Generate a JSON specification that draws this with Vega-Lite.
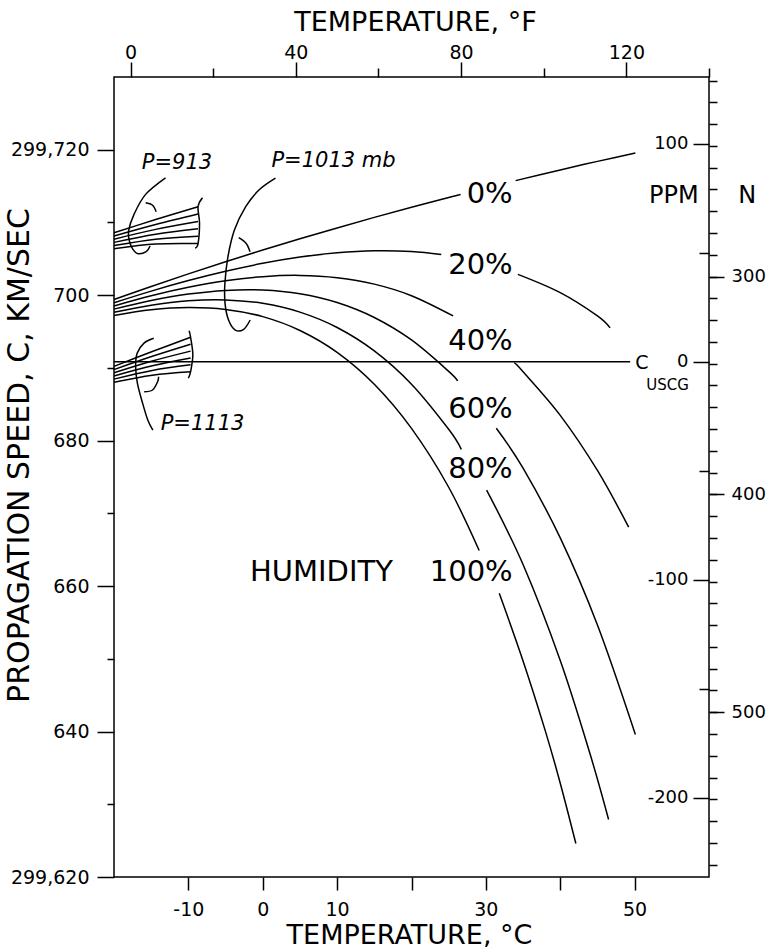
{
  "$schema": "https://vega.github.io/schema/vega-lite/v6.json",
  "width": 595,
  "height": 800,
  "autosize": "none",
  "padding": {"left": 114, "top": 77, "right": 64, "bottom": 75},
  "background": "white",
  "config": {
    "view": {"stroke": "black", "strokeWidth": 1.5},
    "axis": {
      "grid": false, "domain": false,
      "labelFont": "DejaVu Sans", "titleFont": "DejaVu Sans",
      "labelColor": "black", "titleColor": "black", "tickColor": "black",
      "tickWidth": 1.5, "titleFontWeight": "normal", "labelFontWeight": "normal",
      "labelOverlap": false, "labelFlush": false
    }
  },
  "datasets": {
    "curves": [
      {"id":"1013-0-a","i":0,"t":-20,"v":299699.40},{"id":"1013-0-a","i":1,"t":-15,"v":299701.20},{"id":"1013-0-a","i":2,"t":-10,"v":299702.93},{"id":"1013-0-a","i":3,"t":-5,"v":299704.60},{"id":"1013-0-a","i":4,"t":0,"v":299706.21},{"id":"1013-0-a","i":5,"t":5,"v":299707.76},{"id":"1013-0-a","i":6,"t":10,"v":299709.25},{"id":"1013-0-a","i":7,"t":15,"v":299710.70},{"id":"1013-0-a","i":8,"t":20,"v":299712.09},{"id":"1013-0-a","i":9,"t":25,"v":299713.44},{"id":"1013-0-a","i":10,"t":26.6,"v":299713.85},
      {"id":"1013-0-b","i":0,"t":34.0,"v":299715.75},{"id":"1013-0-b","i":1,"t":40,"v":299717.22},{"id":"1013-0-b","i":2,"t":45,"v":299718.40},{"id":"1013-0-b","i":3,"t":50.1,"v":299719.55},
      {"id":"1013-20-a","i":0,"t":-20,"v":299698.96},{"id":"1013-20-a","i":1,"t":-15,"v":299700.56},{"id":"1013-20-a","i":2,"t":-10,"v":299702.01},{"id":"1013-20-a","i":3,"t":-5,"v":299703.29},{"id":"1013-20-a","i":4,"t":0,"v":299704.38},{"id":"1013-20-a","i":5,"t":5,"v":299705.24},{"id":"1013-20-a","i":6,"t":10,"v":299705.83},{"id":"1013-20-a","i":7,"t":15,"v":299706.11},{"id":"1013-20-a","i":8,"t":20,"v":299706.01},{"id":"1013-20-a","i":9,"t":24.0,"v":299705.58},
      {"id":"1013-20-b","i":0,"t":34.3,"v":299702.86},{"id":"1013-20-b","i":1,"t":40,"v":299700.35},{"id":"1013-20-b","i":2,"t":45,"v":299697.15},{"id":"1013-20-b","i":3,"t":46.7,"v":299695.5},
      {"id":"1013-40-a","i":0,"t":-20,"v":299698.52},{"id":"1013-40-a","i":1,"t":-15,"v":299699.92},{"id":"1013-40-a","i":2,"t":-10,"v":299701.08},{"id":"1013-40-a","i":3,"t":-5,"v":299701.98},{"id":"1013-40-a","i":4,"t":0,"v":299702.55},{"id":"1013-40-a","i":5,"t":5,"v":299702.72},{"id":"1013-40-a","i":6,"t":10,"v":299702.41},{"id":"1013-40-a","i":7,"t":15,"v":299701.52},{"id":"1013-40-a","i":8,"t":20,"v":299699.93},{"id":"1013-40-a","i":9,"t":25.6,"v":299697.15},
      {"id":"1013-40-b","i":0,"t":33.8,"v":299690.7},{"id":"1013-40-b","i":1,"t":35,"v":299689.48},{"id":"1013-40-b","i":2,"t":40,"v":299683.48},{"id":"1013-40-b","i":3,"t":45,"v":299675.90},{"id":"1013-40-b","i":4,"t":49.2,"v":299668.1},
      {"id":"1013-60-a","i":0,"t":-20,"v":299698.08},{"id":"1013-60-a","i":1,"t":-15,"v":299699.27},{"id":"1013-60-a","i":2,"t":-10,"v":299700.15},{"id":"1013-60-a","i":3,"t":-5,"v":299700.66},{"id":"1013-60-a","i":4,"t":0,"v":299700.71},{"id":"1013-60-a","i":5,"t":5,"v":299700.20},{"id":"1013-60-a","i":6,"t":10,"v":299698.99},{"id":"1013-60-a","i":7,"t":15,"v":299696.93},{"id":"1013-60-a","i":8,"t":20,"v":299693.84},{"id":"1013-60-a","i":9,"t":25,"v":299689.53},{"id":"1013-60-a","i":10,"t":26.2,"v":299688.2},
      {"id":"1013-60-b","i":0,"t":31.4,"v":299681.7},{"id":"1013-60-b","i":1,"t":35,"v":299676.22},{"id":"1013-60-b","i":2,"t":40,"v":299666.62},{"id":"1013-60-b","i":3,"t":45,"v":299654.65},{"id":"1013-60-b","i":4,"t":50.1,"v":299639.6},
      {"id":"1013-80-a","i":0,"t":-20,"v":299697.64},{"id":"1013-80-a","i":1,"t":-15,"v":299698.63},{"id":"1013-80-a","i":2,"t":-10,"v":299699.23},{"id":"1013-80-a","i":3,"t":-5,"v":299699.35},{"id":"1013-80-a","i":4,"t":0,"v":299698.88},{"id":"1013-80-a","i":5,"t":5,"v":299697.67},{"id":"1013-80-a","i":6,"t":10,"v":299695.56},{"id":"1013-80-a","i":7,"t":15,"v":299692.34},{"id":"1013-80-a","i":8,"t":20,"v":299687.76},{"id":"1013-80-a","i":9,"t":25,"v":299681.56},{"id":"1013-80-a","i":10,"t":26.7,"v":299678.8},
      {"id":"1013-80-b","i":0,"t":30.1,"v":299673.2},{"id":"1013-80-b","i":1,"t":35,"v":299662.96},{"id":"1013-80-b","i":2,"t":40,"v":299649.76},{"id":"1013-80-b","i":3,"t":44,"v":299636.94},{"id":"1013-80-b","i":4,"t":46.5,"v":299627.9},
      {"id":"1013-100-a","i":0,"t":-20,"v":299697.20},{"id":"1013-100-a","i":1,"t":-15,"v":299697.99},{"id":"1013-100-a","i":2,"t":-10,"v":299698.30},{"id":"1013-100-a","i":3,"t":-5,"v":299698.04},{"id":"1013-100-a","i":4,"t":0,"v":299697.05},{"id":"1013-100-a","i":5,"t":5,"v":299695.15},{"id":"1013-100-a","i":6,"t":10,"v":299692.14},{"id":"1013-100-a","i":7,"t":15,"v":299687.75},{"id":"1013-100-a","i":8,"t":20,"v":299681.68},{"id":"1013-100-a","i":9,"t":25,"v":299673.59},{"id":"1013-100-a","i":10,"t":29.1,"v":299664.9},
      {"id":"1013-100-b","i":0,"t":31.8,"v":299659.0},{"id":"1013-100-b","i":1,"t":35,"v":299649.71},{"id":"1013-100-b","i":2,"t":38,"v":299640.06},{"id":"1013-100-b","i":3,"t":40,"v":299632.90},{"id":"1013-100-b","i":4,"t":42.1,"v":299624.6},
      {"id":"913-0","i":0,"t":-20,"v":299708.58},{"id":"913-0","i":1,"t":-14.4,"v":299710.40},{"id":"913-0","i":2,"t":-8.7,"v":299712.16},
      {"id":"913-20","i":0,"t":-20,"v":299708.14},{"id":"913-20","i":1,"t":-14.4,"v":299709.72},{"id":"913-20","i":2,"t":-8.7,"v":299711.15},
      {"id":"913-40","i":0,"t":-20,"v":299707.70},{"id":"913-40","i":1,"t":-14.4,"v":299709.05},{"id":"913-40","i":2,"t":-8.7,"v":299710.13},
      {"id":"913-60","i":0,"t":-20,"v":299707.26},{"id":"913-60","i":1,"t":-14.4,"v":299708.38},{"id":"913-60","i":2,"t":-8.7,"v":299709.12},
      {"id":"913-80","i":0,"t":-20,"v":299706.82},{"id":"913-80","i":1,"t":-14.4,"v":299707.70},{"id":"913-80","i":2,"t":-8.7,"v":299708.10},
      {"id":"913-100","i":0,"t":-20,"v":299706.39},{"id":"913-100","i":1,"t":-14.4,"v":299707.03},{"id":"913-100","i":2,"t":-8.7,"v":299707.09},
      {"id":"913-end","i":0,"t":-8.1,"v":299713.4},{"id":"913-end","i":1,"t":-8.7,"v":299712.16},{"id":"913-end","i":2,"t":-8.5,"v":299709.9},{"id":"913-end","i":3,"t":-8.7,"v":299707.09},{"id":"913-end","i":4,"t":-9.1,"v":299706.5},
      {"id":"1113-0","i":0,"t":-20,"v":299690.21},{"id":"1113-0","i":1,"t":-14.85,"v":299692.25},{"id":"1113-0","i":2,"t":-9.7,"v":299694.21},
      {"id":"1113-20","i":0,"t":-20,"v":299689.77},{"id":"1113-20","i":1,"t":-14.85,"v":299691.60},{"id":"1113-20","i":2,"t":-9.7,"v":299693.26},
      {"id":"1113-40","i":0,"t":-20,"v":299689.33},{"id":"1113-40","i":1,"t":-14.85,"v":299690.95},{"id":"1113-40","i":2,"t":-9.7,"v":299692.31},
      {"id":"1113-60","i":0,"t":-20,"v":299688.90},{"id":"1113-60","i":1,"t":-14.85,"v":299690.30},{"id":"1113-60","i":2,"t":-9.7,"v":299691.37},
      {"id":"1113-80","i":0,"t":-20,"v":299688.46},{"id":"1113-80","i":1,"t":-14.85,"v":299689.65},{"id":"1113-80","i":2,"t":-9.7,"v":299690.42},
      {"id":"1113-100","i":0,"t":-20,"v":299688.02},{"id":"1113-100","i":1,"t":-14.85,"v":299689.00},{"id":"1113-100","i":2,"t":-9.7,"v":299689.48},
      {"id":"1113-end","i":0,"t":-9.9,"v":299695.1},{"id":"1113-end","i":1,"t":-9.7,"v":299694.21},{"id":"1113-end","i":2,"t":-9.4,"v":299691.8},{"id":"1113-end","i":3,"t":-9.7,"v":299689.48},{"id":"1113-end","i":4,"t":-10.0,"v":299688.6},
      {"id":"913-arc","i":0,"t":-13.07,"v":299716.14},{"id":"913-arc","i":1,"t":-15.75,"v":299713.86},{"id":"913-arc","i":2,"t":-17.31,"v":299711.11},{"id":"913-arc","i":3,"t":-18.04,"v":299708.83},{"id":"913-arc","i":4,"t":-17.93,"v":299707.45},{"id":"913-arc","i":5,"t":-17.46,"v":299706.30},{"id":"913-arc","i":6,"t":-16.79,"v":299705.71},{"id":"913-arc","i":7,"t":-15.67,"v":299705.99},{"id":"913-arc","i":8,"t":-15.15,"v":299706.77},
      {"id":"913-hook","i":0,"t":-15.74,"v":299712.72},{"id":"913-hook","i":1,"t":-14.84,"v":299712.4},{"id":"913-hook","i":2,"t":-14.33,"v":299711.48},
      {"id":"1013-arc","i":0,"t":1.71,"v":299716.09},{"id":"1013-arc","i":1,"t":-0.51,"v":299714.46},{"id":"1013-arc","i":2,"t":-2.29,"v":299712.17},{"id":"1013-arc","i":3,"t":-3.81,"v":299708.96},{"id":"1013-arc","i":4,"t":-4.68,"v":299705.29},{"id":"1013-arc","i":5,"t":-5.09,"v":299701.63},{"id":"1013-arc","i":6,"t":-5.07,"v":299698.88},{"id":"1013-arc","i":7,"t":-4.6,"v":299696.59},{"id":"1013-arc","i":8,"t":-3.69,"v":299695.21},{"id":"1013-arc","i":9,"t":-2.57,"v":299695.31},{"id":"1013-arc","i":10,"t":-1.69,"v":299696.59},
      {"id":"1013-hook","i":0,"t":-3.23,"v":299707.9},{"id":"1013-hook","i":1,"t":-2.25,"v":299707.13},{"id":"1013-hook","i":2,"t":-1.71,"v":299705.98},
      {"id":"1113-arc","i":0,"t":-14.66,"v":299694.07},{"id":"1113-arc","i":1,"t":-16.0,"v":299693.38},{"id":"1113-arc","i":2,"t":-16.89,"v":299692.01},{"id":"1113-arc","i":3,"t":-17.09,"v":299690.17},{"id":"1113-arc","i":4,"t":-16.85,"v":299687.88},{"id":"1113-arc","i":5,"t":-16.15,"v":299685.13},{"id":"1113-arc","i":6,"t":-15.46,"v":299682.84},{"id":"1113-arc","i":7,"t":-14.78,"v":299681.46},
      {"id":"1113-hook","i":0,"t":-15.94,"v":299686.73},{"id":"1113-hook","i":1,"t":-14.82,"v":299686.96},{"id":"1113-hook","i":2,"t":-14.14,"v":299688.1},{"id":"1113-hook","i":3,"t":-14.0,"v":299688.79}
    ],
    "pct": [
      {"label":"0%","t":33.6,"v":299713.9},
      {"label":"20%","t":33.6,"v":299704.15},
      {"label":"40%","t":33.6,"v":299693.7},
      {"label":"60%","t":33.6,"v":299684.35},
      {"label":"80%","t":33.6,"v":299676.1},
      {"label":"100%","t":33.6,"v":299661.94},
      {"label":"HUMIDITY","t":17.5,"v":299661.94}
    ],
    "plabels": [
      {"label":"P=913","t":-11.53,"v":299718.17},
      {"label":"P=1013 mb","t":9.51,"v":299718.45},
      {"label":"P=1113","t":-8.1,"v":299682.29}
    ],
    "ppmn": [
      {"label":"PPM","t":55.27,"v":299713.64},
      {"label":"N","t":65.15,"v":299713.64}
    ],
    "cl": [{"label":"C","t":50.97,"v":299690.68}],
    "usl": [{"label":"USCG","t":54.42,"v":299687.66}],
    "uscg": [{"t":-20,"t2":49.4,"v":299690.85}],
    "fmaj": [{"F":0},{"F":40},{"F":80},{"F":120}],
    "fmin": [{"F":20},{"F":60},{"F":100},{"F":140}],
    "nmaj": [{"N":300},{"N":400},{"N":500}],
    "pmaj": [{"ppm":100},{"ppm":0},{"ppm":-100},{"ppm":-200}],
    "pmin": [{"ppm":50},{"ppm":-50},{"ppm":-150}]
  },
  "layer": [
    {
      "data": {"name": "curves"},
      "mark": {"type": "line", "color": "black", "strokeWidth": 1.5, "interpolate": "cardinal"},
      "encoding": {
        "x": {"field": "t", "type": "quantitative", "scale": {"domain": [-20, 60], "nice": false, "zero": false},
          "axis": {"orient": "bottom", "values": [-10, 0, 10, 20, 30, 40, 50],
            "labelExpr": "datum.value == 20 || datum.value == 40 ? '' : '' + datum.value",
            "tickSize": 13, "labelPadding": 10, "labelFontSize": 19,
            "title": "TEMPERATURE, °C", "titleFontSize": 27, "titleX": 295, "titleY": 66,
            "titleAlign": "center", "titleBaseline": "alphabetic"}},
        "y": {"field": "v", "type": "quantitative", "scale": {"domain": [299620, 299730], "nice": false, "zero": false},
          "axis": {"orient": "left", "values": [299620, 299640, 299660, 299680, 299700, 299720],
            "labelExpr": "datum.value == 299720 || datum.value == 299620 ? format(datum.value, ',') : '' + (datum.value - 299000)",
            "tickSize": 17, "labelPadding": 8, "labelFontSize": 19,
            "title": "PROPAGATION SPEED, C, KM/SEC", "titleFontSize": 30, "titleX": -95, "titleY": 378,
            "titleAngle": -90, "titleAlign": "center", "titleBaseline": "middle"}},
        "detail": {"field": "id"},
        "order": {"field": "i", "type": "quantitative"}
      }
    },
    {
      "data": {"name": "pct"},
      "mark": {"type": "text", "color": "black", "font": "DejaVu Sans", "fontSize": 29, "align": "right", "baseline": "middle"},
      "encoding": {
        "x": {"field": "t", "type": "quantitative", "scale": {"domain": [-20, 60], "nice": false, "zero": false}, "axis": null},
        "y": {"field": "v", "type": "quantitative", "scale": {"domain": [299620, 299730], "nice": false, "zero": false},
          "axis": {"orient": "left", "values": [299630, 299650, 299670, 299690, 299710], "tickSize": 7, "labels": false, "title": null}},
        "text": {"field": "label"}
      }
    },
    {
      "data": {"name": "plabels"},
      "mark": {"type": "text", "color": "black", "font": "DejaVu Sans", "fontSize": 21, "fontStyle": "italic", "align": "center", "baseline": "middle"},
      "encoding": {
        "x": {"field": "t", "type": "quantitative", "scale": {"domain": [-20, 60], "nice": false, "zero": false}, "axis": null},
        "y": {"field": "v", "type": "quantitative", "scale": {"domain": [299620, 299730], "nice": false, "zero": false}, "axis": null},
        "text": {"field": "label"}
      }
    },
    {
      "data": {"name": "ppmn"},
      "mark": {"type": "text", "color": "black", "font": "DejaVu Sans", "fontSize": 24, "align": "center", "baseline": "middle"},
      "encoding": {
        "x": {"field": "t", "type": "quantitative", "scale": {"domain": [-20, 60], "nice": false, "zero": false}, "axis": null},
        "y": {"field": "v", "type": "quantitative", "scale": {"domain": [299620, 299730], "nice": false, "zero": false}, "axis": null},
        "text": {"field": "label"}
      }
    },
    {
      "data": {"name": "cl"},
      "mark": {"type": "text", "color": "black", "font": "DejaVu Sans", "fontSize": 19, "align": "center", "baseline": "middle"},
      "encoding": {
        "x": {"field": "t", "type": "quantitative", "scale": {"domain": [-20, 60], "nice": false, "zero": false}, "axis": null},
        "y": {"field": "v", "type": "quantitative", "scale": {"domain": [299620, 299730], "nice": false, "zero": false}, "axis": null},
        "text": {"field": "label"}
      }
    },
    {
      "data": {"name": "usl"},
      "mark": {"type": "text", "color": "black", "font": "DejaVu Sans", "fontSize": 15, "align": "center", "baseline": "middle"},
      "encoding": {
        "x": {"field": "t", "type": "quantitative", "scale": {"domain": [-20, 60], "nice": false, "zero": false}, "axis": null},
        "y": {"field": "v", "type": "quantitative", "scale": {"domain": [299620, 299730], "nice": false, "zero": false}, "axis": null},
        "text": {"field": "label"}
      }
    },
    {
      "data": {"name": "uscg"},
      "mark": {"type": "rule", "color": "black", "strokeWidth": 1.5},
      "encoding": {
        "x": {"field": "t", "type": "quantitative", "scale": {"domain": [-20, 60], "nice": false, "zero": false}, "axis": null},
        "x2": {"field": "t2"},
        "y": {"field": "v", "type": "quantitative", "scale": {"domain": [299620, 299730], "nice": false, "zero": false}, "axis": null}
      }
    },
    {
      "data": {"name": "fmaj"},
      "mark": {"type": "point", "opacity": 0},
      "encoding": {
        "x": {"field": "F", "type": "quantitative", "scale": {"domain": [-4, 140], "nice": false, "zero": false},
          "axis": {"orient": "top", "values": [0, 40, 80, 120], "tickSize": 15, "labelPadding": 0, "labelFontSize": 19,
            "title": "TEMPERATURE, °F", "titleFontSize": 27, "titleX": 301, "titleY": -47,
            "titleAlign": "center", "titleBaseline": "alphabetic"}}
      }
    },
    {
      "data": {"name": "fmin"},
      "mark": {"type": "point", "opacity": 0},
      "encoding": {
        "x": {"field": "F", "type": "quantitative", "scale": {"domain": [-4, 140], "nice": false, "zero": false},
          "axis": {"orient": "top", "values": [20, 60, 100, 140], "tickSize": 9, "labels": false, "title": null}}
      }
    },
    {
      "data": {"name": "nmaj"},
      "mark": {"type": "point", "opacity": 0},
      "encoding": {
        "y": {"field": "N", "type": "quantitative", "scale": {"domain": [208.38, 575.65], "reverse": true, "nice": false, "zero": false},
          "axis": {"orient": "right", "values": [300, 400, 500], "tickSize": 15, "labelPadding": 7, "labelFontSize": 18, "title": null}}
      }
    },
    {
      "data": {"name": "nmaj"},
      "mark": {"type": "point", "opacity": 0},
      "encoding": {
        "y": {"field": "N", "type": "quantitative", "scale": {"domain": [208.38, 575.65], "reverse": true, "nice": false, "zero": false},
          "axis": {"orient": "right", "values": [210,220,230,240,250,260,270,280,290,300,310,320,330,340,350,360,370,380,390,400,410,420,430,440,450,460,470,480,490,500,510,520,530,540,550,560,570],
            "tickSize": 8, "labels": false, "title": null}}
      }
    },
    {
      "data": {"name": "pmaj"},
      "mark": {"type": "point", "opacity": 0},
      "encoding": {
        "y": {"field": "ppm", "type": "quantitative", "scale": {"domain": [-236.41, 130.63], "nice": false, "zero": false},
          "axis": {"orient": "left", "offset": -595, "values": [100, 0, -100, -200], "tickSize": 16, "labelPadding": 5, "labelFontSize": 18,
            "labelExpr": "'' + datum.value", "title": null}}
      }
    },
    {
      "data": {"name": "pmin"},
      "mark": {"type": "point", "opacity": 0},
      "encoding": {
        "y": {"field": "ppm", "type": "quantitative", "scale": {"domain": [-236.41, 130.63], "nice": false, "zero": false},
          "axis": {"orient": "left", "offset": -595, "values": [50, -50, -150], "tickSize": 10, "labels": false, "title": null}}
      }
    }
  ],
  "resolve": {"scale": {"x": "independent", "y": "independent"}, "axis": {"x": "independent", "y": "independent"}}
}
